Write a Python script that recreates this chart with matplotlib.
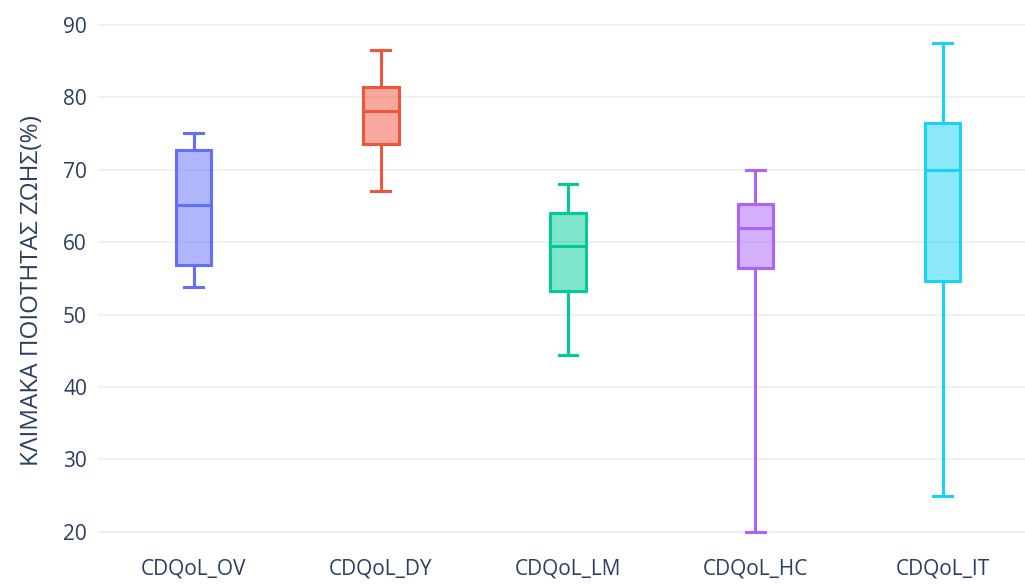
import matplotlib.pyplot as plt
import matplotlib.colors as mcolors

labels = ['CDQoL_OV', 'CDQoL_DY', 'CDQoL_LM', 'CDQoL_HC', 'CDQoL_IT']
whislo = [53.8, 67.1, 44.4, 20.0, 25.0]
q1 = [56.9, 73.5, 53.3, 56.5, 54.7]
med = [65.1, 78.1, 59.5, 62.0, 70.0]
q3 = [72.7, 81.4, 64.1, 65.3, 76.5]
whishi = [75.1, 86.5, 68.0, 70.0, 87.5]
colors = ['#636efa', '#EF553B', '#00cc96', '#ab63fa', '#19d3f3']

plt.rcParams['font.family'] = ['Open Sans', 'DejaVu Sans']

fig = plt.figure(figsize=(10.25, 5.85), dpi=100)
ax = fig.add_axes([98 / 1025, 35 / 585, 1 - 98 / 1025, 1 - 35 / 585])

for i in range(len(labels)):
    stats = [dict(label=labels[i], whislo=whislo[i], q1=q1[i], med=med[i],
                  q3=q3[i], whishi=whishi[i], fliers=[])]
    c = colors[i]
    ax.bxp(stats, positions=[i], widths=0.19, capwidths=0.1, patch_artist=True,
           showfliers=False,
           boxprops=dict(facecolor=mcolors.to_rgba(c, 0.5), edgecolor=c, linewidth=2.2),
           medianprops=dict(color=c, linewidth=2.2),
           whiskerprops=dict(color=c, linewidth=2.2),
           capprops=dict(color=c, linewidth=2.2))

ax.set_xlim(-0.51, 4.44)
ax.set_ylim(17.5, 93.45)
ax.set_xticks(range(len(labels)))
ax.set_xticklabels(labels)
ax.set_yticks([20, 30, 40, 50, 60, 70, 80, 90])
ax.grid(axis='y', color='#ebeef2', linewidth=1.2)
ax.set_axisbelow(True)
for s in ax.spines.values():
    s.set_visible(False)
ax.tick_params(length=0, colors='#2a3f5f', labelsize=15, pad=8)
ax.tick_params(axis='x', pad=6)
ax.set_ylabel('ΚΛΙΜΑΚΑ ΠΟΙΟΤΗΤΑΣ ΖΩΗΣ(%)', color='#2a3f5f', fontsize=17.5)
ax.yaxis.set_label_coords(-0.058, 0.472)

fig.savefig('out.png', dpi=100)
